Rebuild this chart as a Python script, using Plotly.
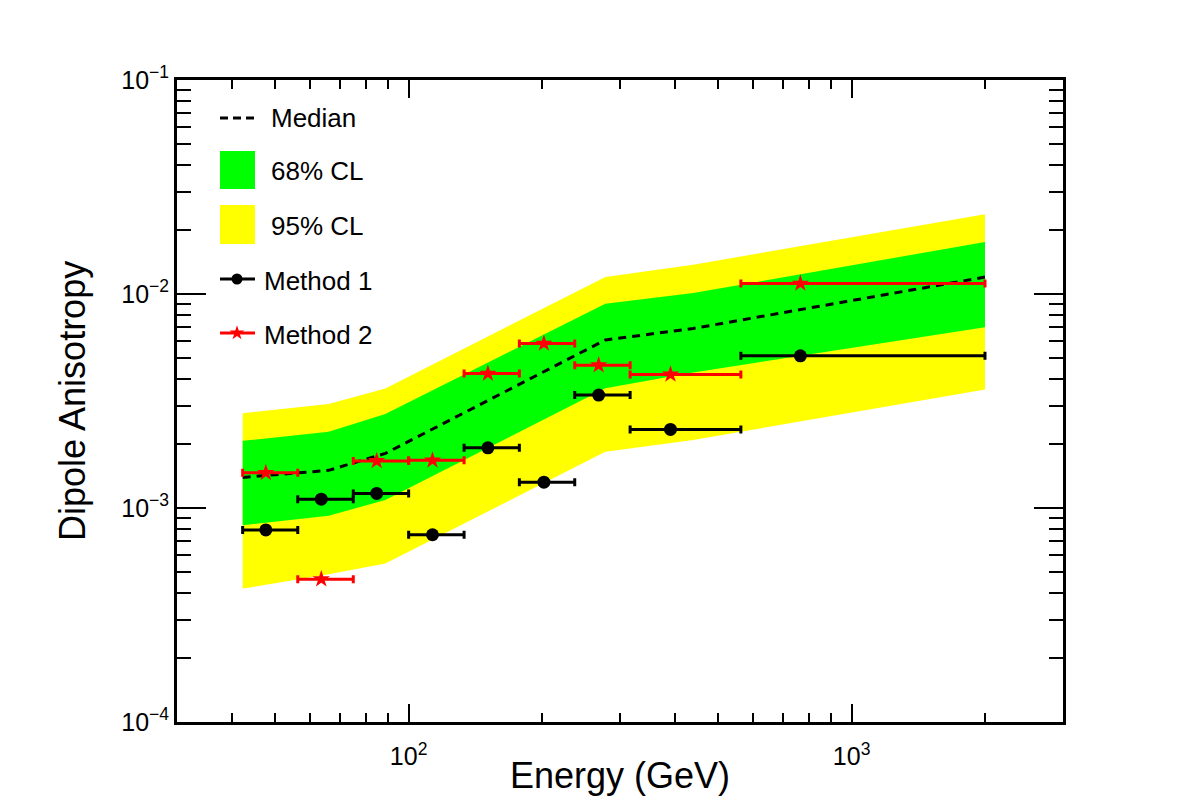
import math
import plotly.graph_objects as go

# ---------------- data ----------------
band_E = [42.2, 66.0, 88.6, 278.0, 439.0, 2000.0]
cl95_hi = [2.77e-3, 3.06e-3, 3.62e-3, 1.20e-2, 1.37e-2, 2.36e-2]
cl68_hi = [2.06e-3, 2.27e-3, 2.75e-3, 9.0e-3, 1.01e-2, 1.75e-2]
median = [1.39e-3, 1.50e-3, 1.80e-3, 6.1e-3, 6.9e-3, 1.20e-2]
cl68_lo = [8.3e-4, 9.2e-4, 1.09e-3, 3.63e-3, 4.3e-3, 7.0e-3]
cl95_lo = [4.2e-4, 4.9e-4, 5.5e-4, 1.83e-3, 2.08e-3, 3.58e-3]

bin_edges = [42.2, 56.2, 75.0, 100.0, 133.4, 177.8, 237.1, 316.2, 562.3, 2000.0]
E_pts = [47.6, 63.5, 84.7, 113.2, 151.0, 202.0, 268.5, 390.0, 766.0]
method1 = [7.9e-4, 1.10e-3, 1.17e-3, 7.5e-4, 1.91e-3, 1.32e-3, 3.37e-3, 2.33e-3, 5.14e-3]
method2 = [1.46e-3, 4.65e-4, 1.66e-3, 1.67e-3, 4.25e-3, 5.87e-3, 4.65e-3, 4.21e-3, 1.12e-2]

x_ticks = [100, 1000]
x_ticktext = ["10<sup>2</sup>", "10<sup>3</sup>"]
y_ticks = [1e-4, 1e-3, 1e-2, 1e-1]
y_ticktext = ["10<sup>\u22124</sup>", "10<sup>\u22123</sup>", "10<sup>\u22122</sup>", "10<sup>\u22121</sup>"]

legend_labels = ["Median", "68% CL", "95% CL", "Method 1", "Method 2"]

# ---------------- figure ----------------
W, H = 1182, 803
L, R, T, B = 177, 119, 80, 81
pw, ph = W - L - R, H - T - B
FONT = "Liberation Sans, Arial, Helvetica, sans-serif"

def px(x):
    return (x - L) / pw

def py(y):
    return (H - B - y) / ph

fig = go.Figure()

# 95% band
fig.add_trace(go.Scatter(
    x=band_E + band_E[::-1], y=cl95_hi + cl95_lo[::-1],
    fill="toself", fillcolor="#ffff00", line=dict(width=0),
    mode="lines", showlegend=False, hoverinfo="skip"))
# 68% band
fig.add_trace(go.Scatter(
    x=band_E + band_E[::-1], y=cl68_hi + cl68_lo[::-1],
    fill="toself", fillcolor="#00ff00", line=dict(width=0),
    mode="lines", showlegend=False, hoverinfo="skip"))
# median
fig.add_trace(go.Scatter(
    x=band_E, y=median, mode="lines",
    line=dict(color="black", width=3, dash="8px,6px"),
    showlegend=False))

lo_edges = bin_edges[:-1]
hi_edges = bin_edges[1:]
err_plus = [h - x for h, x in zip(hi_edges, E_pts)]
err_minus = [x - l for l, x in zip(lo_edges, E_pts)]

fig.add_trace(go.Scatter(
    x=E_pts, y=method1, mode="markers",
    marker=dict(symbol="circle", size=13, color="black"),
    error_x=dict(type="data", symmetric=False, array=err_plus, arrayminus=err_minus,
                 thickness=3, width=4, color="black"),
    showlegend=False))
fig.add_trace(go.Scatter(
    x=E_pts, y=method2, mode="markers",
    marker=dict(symbol="star", size=13, color="red"),
    error_x=dict(type="data", symmetric=False, array=err_plus, arrayminus=err_minus,
                 thickness=3, width=4, color="red"),
    showlegend=False))

# ---------------- manual legend ----------------
shapes = []
annotations = []
shapes.append(dict(type="line", xref="paper", yref="paper",
                   x0=px(220), x1=px(256), y0=py(118), y1=py(118),
                   line=dict(color="black", width=3, dash="8px,5px")))
shapes.append(dict(type="rect", xref="paper", yref="paper",
                   x0=px(220), x1=px(255), y0=py(151), y1=py(189),
                   fillcolor="#00ff00", line=dict(width=0)))
shapes.append(dict(type="rect", xref="paper", yref="paper",
                   x0=px(220), x1=px(255), y0=py(205), y1=py(244),
                   fillcolor="#ffff00", line=dict(width=0)))
shapes.append(dict(type="line", xref="paper", yref="paper",
                   x0=px(220), x1=px(255), y0=py(279), y1=py(279),
                   line=dict(color="black", width=3)))
shapes.append(dict(type="line", xref="paper", yref="paper",
                   x0=px(220), x1=px(255), y0=py(333), y1=py(333),
                   line=dict(color="red", width=3)))

fig.add_trace(go.Scatter(x=[px(237)], y=[py(279)], xaxis="x2", yaxis="y2",
                         mode="markers", marker=dict(symbol="circle", size=11, color="black"),
                         showlegend=False, hoverinfo="skip"))
fig.add_trace(go.Scatter(x=[px(237)], y=[py(333)], xaxis="x2", yaxis="y2",
                         mode="markers", marker=dict(symbol="star", size=11, color="red"),
                         showlegend=False, hoverinfo="skip"))

leg_pos = [(269, 118), (269, 171), (269, 226), (262, 281), (262, 335)]
for lab, (lx, ly) in zip(legend_labels, leg_pos):
    annotations.append(dict(text=lab, xref="paper", yref="paper", x=px(lx), y=py(ly),
                            xanchor="left", yanchor="middle", showarrow=False,
                            font=dict(family=FONT, size=26, color="black")))

annotations.append(dict(text="Energy (GeV)", xref="paper", yref="paper",
                        x=0.5, y=py(776), xanchor="center", yanchor="middle",
                        showarrow=False, font=dict(family=FONT, size=36, color="black")))
annotations.append(dict(text="Dipole Anisotropy", xref="paper", yref="paper",
                        x=px(72), y=py(401), xanchor="center", yanchor="middle",
                        textangle=-90, showarrow=False,
                        font=dict(family=FONT, size=36, color="black")))

x_minor = [m * d for d in (10, 100, 1000) for m in range(2, 10) if 30 <= m * d <= 3000 and m * d not in (100, 1000)]
y_minor = [m * d for d in (1e-4, 1e-3, 1e-2) for m in range(2, 10)]

axis_common = dict(showline=True, linewidth=3, linecolor="black", mirror="ticks",
                   showgrid=False, zeroline=False, ticks="inside", tickwidth=2,
                   tickcolor="black", tickmode="array",
                   tickfont=dict(family=FONT, size=25, color="black"))

fig.update_layout(
    width=W, height=H,
    margin=dict(l=L, r=R, t=T, b=B),
    paper_bgcolor="white", plot_bgcolor="white",
    showlegend=False,
    xaxis=dict(type="log", range=[math.log10(30), math.log10(3000)],
               tickvals=x_ticks, ticktext=x_ticktext, ticklen=18,
               ticklabelstandoff=10,
               minor=dict(tickvals=x_minor, ticks="inside", ticklen=9, tickwidth=2,
                          tickcolor="black", showgrid=False),
               **axis_common),
    yaxis=dict(type="log", range=[-4, -1],
               tickvals=y_ticks, ticktext=y_ticktext, ticklen=29,
               minor=dict(tickvals=y_minor, ticks="inside", ticklen=14, tickwidth=2,
                          tickcolor="black", showgrid=False),
               **axis_common),
    xaxis2=dict(overlaying="x", range=[0, 1], visible=False, fixedrange=True),
    yaxis2=dict(overlaying="y", range=[0, 1], visible=False, fixedrange=True),
    shapes=shapes,
    annotations=annotations,
)

fig.write_html("out.html")
